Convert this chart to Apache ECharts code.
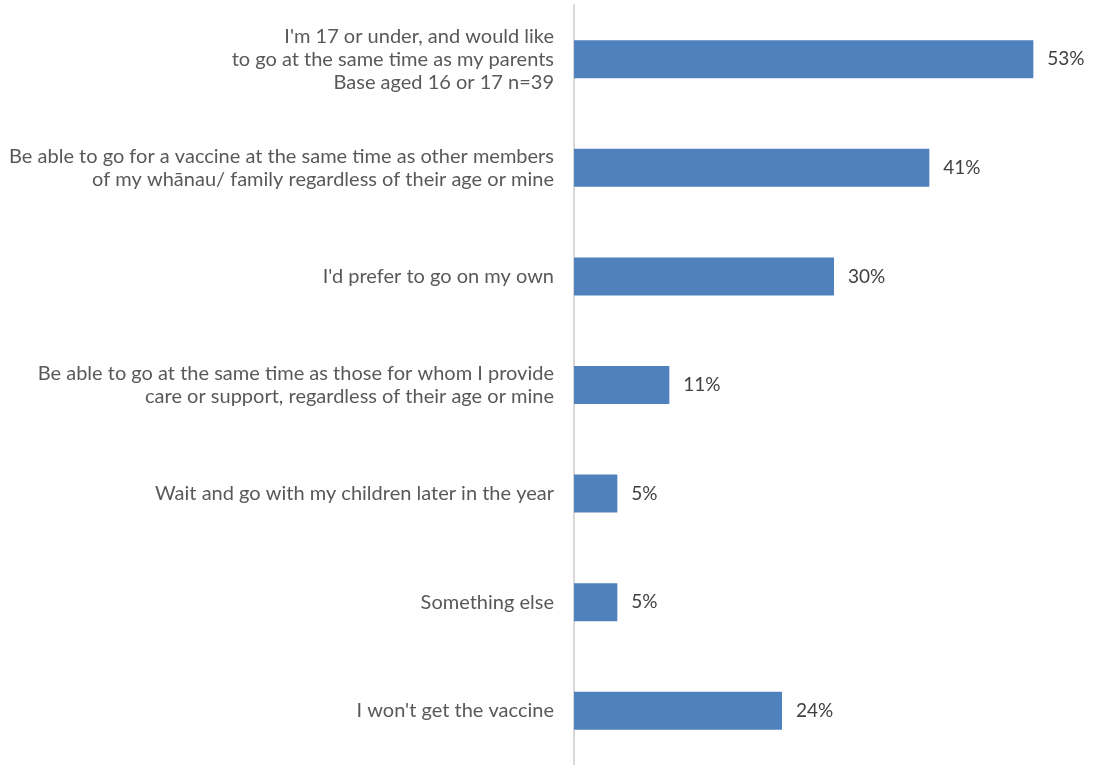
<!DOCTYPE html>
<html>
<head>
<meta charset="utf-8">
<style>
  html, body { margin: 0; padding: 0; background: #ffffff; }
  #chart { width: 1094px; height: 765px; }
</style>
<script src="https://cdn.jsdelivr.net/npm/echarts@6/dist/echarts.min.js"></script>
</head>
<body>
<div id="chart"></div>
<script>
// Response options, top to bottom
const categories = [
  "I'm 17 or under, and would like\nto go at the same time as my parents\nBase aged 16 or 17 n=39",
  "Be able to go for a vaccine at the same time as other members\nof my whānau/ family regardless of their age or mine",
  "I'd prefer to go on my own",
  "Be able to go at the same time as those for whom I provide\ncare or support, regardless of their age or mine",
  "Wait and go with my children later in the year",
  "Something else",
  "I won't get the vaccine"
];
// Share of respondents (%)
const values = [53, 41, 30, 11, 5, 5, 24];

const chart = echarts.init(document.getElementById('chart'));
const font = "Lato, 'Open Sans', sans-serif";

chart.setOption({
  animation: false,
  backgroundColor: '#ffffff',
  grid: { left: 574, right: 0, top: 5, bottom: 0, containLabel: false },
  xAxis: {
    type: 'value',
    min: 0,
    max: 60,
    show: false
  },
  yAxis: {
    type: 'category',
    inverse: true,
    data: categories,
    axisLine: { show: true, lineStyle: { color: '#d9d9d9', width: 2 } },
    axisTick: { show: false },
    axisLabel: {
      margin: 20,
      color: '#595959',
      fontFamily: font,
      fontSize: 20,
      lineHeight: 23,
      align: 'right'
    }
  },
  series: [{
    type: 'bar',
    data: values,
    barWidth: '35%',
    itemStyle: { color: '#4f81bd' },
    label: {
      show: true,
      position: 'right',
      distance: 14,
      formatter: '{c}%',
      color: '#404040',
      fontFamily: font,
      fontSize: 19
    }
  }]
});
</script>
</body>
</html>
